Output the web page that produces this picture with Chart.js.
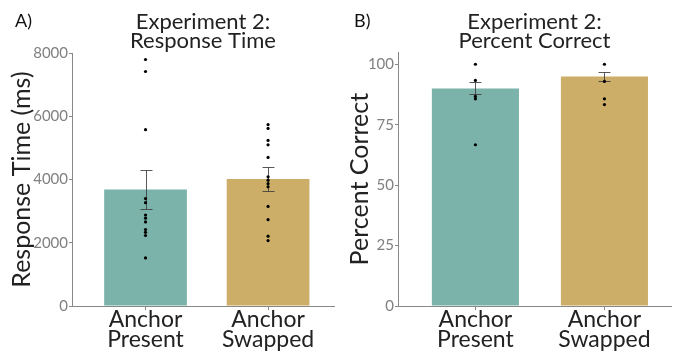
<!DOCTYPE html>
<html><head><meta charset="utf-8">
<script src="https://cdn.jsdelivr.net/npm/chart.js@4"></script>
<style>
html,body{margin:0;padding:0;background:#fff;width:676px;height:351px;overflow:hidden;}
.panel{position:absolute;top:0;width:338px;height:351px;}
.tag{position:absolute;top:9px;font:18px Lato, sans-serif;color:#111;}
</style></head><body>
<div class="panel" style="left:0"><canvas id="c1" width="338" height="351"></canvas></div>
<div class="panel" style="left:338px"><canvas id="c2" width="338" height="351"></canvas></div>
<div class="tag" style="left:15px">A)</div>
<div class="tag" style="left:354px">B)</div>
<script>
// ---- data ----
const categories = [['Anchor', 'Present'], ['Anchor', 'Swapped']];

const rtMeans = [3690, 4020];
const rtErrLow = [3080, 3650];
const rtErrHigh = [4295, 4400];
const rtPresentPoints = [7800, 7420, 5580, 3400, 3270, 2880, 2780, 2660, 2420, 2330, 2230, 1520];
const rtSwappedPoints = [5740, 5620, 5240, 5100, 4700, 4090, 3980, 3870, 3770, 3150, 2730, 2210, 2070];
const rtTicks = [0, 2000, 4000, 6000, 8000];

const pcMeans = [90.0, 94.9];
const pcErrLow = [87.5, 93.0];
const pcErrHigh = [92.6, 96.8];
const pcPresentPoints = [100, 93.3, 86.7, 85.7, 66.7];
const pcSwappedPoints = [100, 92.9, 85.7, 83.3];
const pcTicks = [0, 25, 50, 75, 100];

const barColors = ['#7bb3aa', '#cdae68'];
const FONT = 'Lato, "Open Sans", sans-serif';

const errorBars = {
  id: 'errorBars',
  afterDatasetDraw(chart, args, opts) {
    if (args.index !== 0) return;
    const ctx = chart.ctx, x = chart.scales.x, y = chart.scales.y;
    ctx.save();
    ctx.strokeStyle = opts.color;
    ctx.lineWidth = 1;
    for (let i = 0; i < opts.low.length; i++) {
      const px = Math.round(x.getPixelForValue(i + 1)) + 0.5;
      const y1 = Math.round(y.getPixelForValue(opts.low[i])) + 0.5;
      const y2 = Math.round(y.getPixelForValue(opts.high[i])) + 0.5;
      const hw = opts.capHalf;
      ctx.beginPath();
      ctx.moveTo(px, y1); ctx.lineTo(px, y2);
      ctx.moveTo(px - hw, y1); ctx.lineTo(px + hw, y1);
      ctx.moveTo(px - hw, y2); ctx.lineTo(px + hw, y2);
      ctx.stroke();
    }
    ctx.restore();
  }
};

function makeChart(id, cfg) {
  const pts = [];
  cfg.points.forEach((arr, i) => arr.forEach(v => pts.push({x: i + 1, y: v})));
  return new Chart(document.getElementById(id), {
    type: 'bar',
    data: {
      datasets: [
        {
          type: 'bar',
          data: cfg.means.map((v, i) => ({x: i + 1, y: v})),
          backgroundColor: barColors,
          borderWidth: 0,
          barPercentage: 0.675,
          categoryPercentage: 1,
          order: 2
        },
        {
          type: 'line',
          data: pts,
          showLine: false,
          pointRadius: 1.6,
          pointBackgroundColor: '#000',
          pointBorderWidth: 0,
          order: 1
        }
      ]
    },
    plugins: [errorBars],
    options: {
      responsive: false,
      animation: false,
      layout: {padding: {left: 0, right: cfg.padRight, top: 0, bottom: 0}},
      plugins: {
        legend: {display: false},
        tooltip: {enabled: false},
        title: {
          display: true,
          text: cfg.title,
          fullSize: false,
          color: '#222',
          font: {family: FONT, size: 22, weight: '400', lineHeight: 0.89},
          padding: {top: 12, bottom: cfg.titleBottom}
        },
        errorBars: {low: cfg.low, high: cfg.high, color: 'rgba(60,60,60,0.85)', capHalf: 6}
      },
      scales: {
        x: {
          type: 'linear',
          offset: false,
          min: 0.4,
          max: cfg.xMax,
          afterBuildTicks: s => { s.ticks = categories.map((c, i) => ({value: i + 1})); },
          afterFit: s => { s.height = 45; },
          ticks: {
            callback: v => categories[v - 1] || '',
            color: '#222',
            padding: 0,
            maxRotation: 0,
            autoSkip: false,
            font: {family: FONT, size: 23, weight: '400', lineHeight: 0.87}
          },
          grid: {drawOnChartArea: false, drawTicks: true, tickLength: 4, color: '#888', offset: false},
          border: {color: '#888', width: 1}
        },
        y: {
          min: 0,
          max: cfg.yMax,
          afterBuildTicks: s => { s.ticks = cfg.ticks.map(v => ({value: v})); },
          afterFit: s => { s.width = cfg.yWidth; },
          ticks: {
            color: '#808080',
            padding: 1,
            callback: v => String(v),
            font: {family: FONT, size: 15, weight: '400'}
          },
          grid: {drawOnChartArea: false, drawTicks: true, tickLength: 3, color: '#888'},
          border: {color: '#888', width: 1},
          title: {
            display: true,
            text: cfg.yTitle,
            color: '#222',
            font: {family: FONT, size: 25, weight: '400', lineHeight: 1},
            padding: {top: 9, bottom: 0}
          }
        }
      }
    }
  });
}

makeChart('c1', {
  title: ['Experiment 2:', 'Response Time'],
  yTitle: 'Response Time (ms)',
  means: rtMeans, low: rtErrLow, high: rtErrHigh,
  points: [rtPresentPoints, rtSwappedPoints],
  ticks: rtTicks, yMax: 8000, yWidth: 72, padRight: 3, xMax: 2.538, titleBottom: 2
});
makeChart('c2', {
  title: ['Experiment 2:', 'Percent Correct'],
  yTitle: 'Percent Correct',
  means: pcMeans, low: pcErrLow, high: pcErrHigh,
  points: [pcPresentPoints, pcSwappedPoints],
  ticks: pcTicks, yMax: 105, yWidth: 60, padRight: 5, xMax: 2.516, titleBottom: 1
});
</script>
</body></html>
